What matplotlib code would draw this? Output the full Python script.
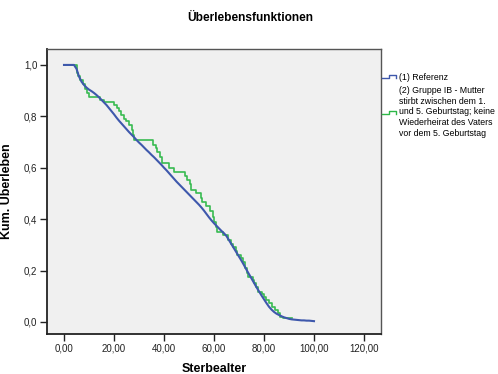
import matplotlib
matplotlib.use("Agg")
import matplotlib.pyplot as plt
from matplotlib.lines import Line2D

plt.rcParams['font.family'] = ['Liberation Sans', 'DejaVu Sans']

# Kaplan-Meier survival estimates, reference group (age in years, cumulative survival)
ref_age = list(range(0, 101))
ref_surv = [
    1.000, 1.000, 1.000, 1.000, 1.000, 0.985, 0.955, 0.935, 0.922, 0.912,
    0.904, 0.898, 0.891, 0.883, 0.874, 0.864, 0.854, 0.844, 0.832, 0.820,
    0.808, 0.795, 0.783, 0.772, 0.761, 0.750, 0.739, 0.729, 0.719, 0.708,
    0.698, 0.689, 0.679, 0.669, 0.660, 0.650, 0.641, 0.631, 0.621, 0.611,
    0.600, 0.590, 0.579, 0.568, 0.557, 0.546, 0.536, 0.526, 0.516, 0.506,
    0.496, 0.486, 0.476, 0.466, 0.456, 0.445, 0.433, 0.420, 0.407, 0.395,
    0.384, 0.374, 0.364, 0.354, 0.345, 0.334, 0.318, 0.302, 0.286, 0.270,
    0.254, 0.238, 0.221, 0.203, 0.186, 0.169, 0.152, 0.135, 0.119, 0.103,
    0.088, 0.073, 0.059, 0.048, 0.039, 0.032, 0.027, 0.022, 0.018, 0.015,
    0.012, 0.010, 0.009, 0.008, 0.007, 0.006, 0.006, 0.005, 0.005, 0.004,
    0.003,
]

# Group IB: event ages and survival after each event
grp_age = [
    0.0, 5.0, 5.6, 6.2, 7.6, 8.2, 9.0, 9.8, 14.4, 16.0,
    19.8, 21.0, 22.0, 22.8, 24.0, 24.8, 25.8, 27.0, 27.6, 28.0,
    35.4, 36.6, 37.2, 38.4, 39.0, 41.8, 44.0, 48.4, 49.2, 50.2,
    50.8, 52.6, 54.6, 55.2, 56.8, 58.2, 59.4, 60.0, 60.6, 61.0,
    63.6, 65.4, 66.6, 67.6, 68.6, 69.2, 70.8, 71.4, 72.4, 73.0,
    73.6, 75.4, 76.0, 76.8, 77.4, 79.2, 79.8, 80.8, 82.0, 83.2,
    84.2, 85.4, 86.2, 87.4, 91.0,
]
grp_surv = [
    1.000, 0.970, 0.955, 0.940, 0.925, 0.905, 0.890, 0.877, 0.864, 0.855,
    0.843, 0.832, 0.820, 0.805, 0.790, 0.780, 0.767, 0.745, 0.728, 0.706,
    0.690, 0.675, 0.660, 0.640, 0.617, 0.598, 0.585, 0.568, 0.553, 0.535,
    0.514, 0.500, 0.484, 0.468, 0.450, 0.430, 0.410, 0.390, 0.370, 0.351,
    0.339, 0.320, 0.305, 0.293, 0.275, 0.261, 0.247, 0.235, 0.210, 0.190,
    0.176, 0.162, 0.150, 0.135, 0.118, 0.107, 0.098, 0.086, 0.075, 0.060,
    0.045, 0.035, 0.021, 0.016, 0.014,
]

x_ticks = [0, 20, 40, 60, 80, 100, 120]
x_labels = ["0,00", "20,00", "40,00", "60,00", "80,00", "100,00", "120,00"]
y_ticks = [0.0, 0.2, 0.4, 0.6, 0.8, 1.0]
y_labels = ["0,0", "0,2", "0,4", "0,6", "0,8", "1,0"]

legend_labels = [
    "(1) Referenz",
    "(2) Gruppe IB - Mutter\nstirbt zwischen dem 1.\nund 5. Geburtstag; keine\nWiederheirat des Vaters\nvor dem 5. Geburtstag",
]

BLUE = "#3E58AC"
GREEN = "#2EB848"

W, H = 498, 374
fig = plt.figure(figsize=(W / 100, H / 100), dpi=100)
fig.patch.set_facecolor("white")
ax = fig.add_axes([47 / W, 1 - 334 / H, (381 - 47) / W, (334 - 49) / H])
ax.set_facecolor("#F0F0F0")

ax.step(grp_age, grp_surv, where="post", color=GREEN, lw=1.2, alpha=0.95)
# the reference group has many events, so its fine staircase is drawn as a line
ax.plot(ref_age, ref_surv, color=BLUE, lw=1.5)

ax.set_xlim(-6.8, 126.8)
ax.set_ylim(-0.047, 1.062)
ax.set_xticks(x_ticks)
ax.set_xticklabels(x_labels)
ax.set_yticks(y_ticks)
ax.set_yticklabels(y_labels)
ax.tick_params(axis="both", direction="out", length=5, width=1.0,
               labelsize=7, color="#222222", labelcolor="#222222", pad=2)

for side in ("left", "bottom"):
    ax.spines[side].set_color("#222222")
    ax.spines[side].set_linewidth(1.3)
for side in ("top", "right"):
    ax.spines[side].set_color("#555555")
    ax.spines[side].set_linewidth(1.0)

ax.set_xlabel("Sterbealter", fontsize=9, fontweight="bold", labelpad=7)
ax.set_ylabel("Kum. Überleben", fontsize=9, fontweight="bold", labelpad=8)
fig.text(250 / W, 1 - 18 / H, "Überlebensfunktionen", ha="center", va="center",
         fontsize=8.6, fontweight="bold")

# legend outside the plot, with step-shaped keys
def key(y_px, color):
    xs = [382, 389, 389, 396, 396]
    ys = [y_px + 1.5, y_px + 1.5, y_px - 1.5, y_px - 1.5, y_px + 1.5]
    fig.add_artist(Line2D([x / W for x in xs], [1 - y / H for y in ys],
                          color=color, lw=1.0, transform=fig.transFigure))

key(76, BLUE)
key(112, GREEN)
fig.text(399 / W, 1 - 77 / H, legend_labels[0], ha="left", va="center", fontsize=6.3)
fig.text(399 / W, 1 - 112 / H, legend_labels[1], ha="left", va="center",
         fontsize=6.3, linespacing=1.22)

fig.savefig("out.png", dpi=100)
